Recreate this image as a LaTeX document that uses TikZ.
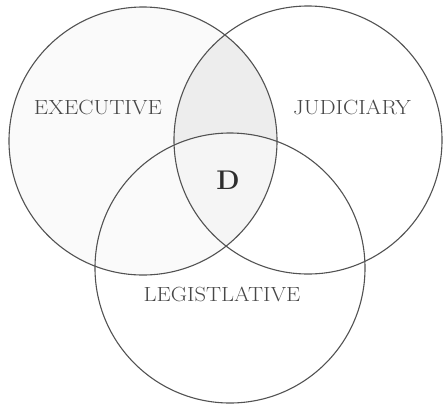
\documentclass[tikz,border=0pt]{standalone}
\usepackage{graphicx}
\tikzset{
  venn/.style={draw=black!68, line width=1.1pt},
  lbl/.style={text=black!72, font=\fontsize{20.5}{24}\selectfont, inner sep=0pt},
  dlbl/.style={text=black!82, font=\fontsize{27}{30}\selectfont\bfseries, inner sep=0pt}
}
\begin{document}
\begin{tikzpicture}[x=1pt,y=-1pt]
\useasboundingbox (0,0) rectangle (443,405);
\coordinate (ce) at (143,141);
\coordinate (cj) at (308,140);
\coordinate (cl) at (230,268);
% fills
\fill[black!2] (ce) circle[radius=134pt];
\begin{scope}
  \clip (ce) circle[radius=134pt];
  \fill[black!7] (cj) circle[radius=134pt];
  \clip (cj) circle[radius=134pt];
  \fill[black!4] (cl) circle[radius=135pt];
\end{scope}
% circles
\node[venn, circle, minimum size=268pt, inner sep=0pt] (exec) at (ce) {};
\node[venn, circle, minimum size=268pt, inner sep=0pt] (jud) at (cj) {};
\node[venn, circle, minimum size=270pt, inner sep=0pt] (leg) at (cl) {};
% labels
\node[lbl] (te) at (98,107) {\scalebox{1.11}[1]{EXECUTIVE}};
\node[lbl] (tj) at (352,107) {\scalebox{1.11}[1]{JUDICIARY}};
\node[lbl] (tl) at (222,294) {\scalebox{1.10}[1]{LEGISTLATIVE}};
\node[dlbl] (d) at (228,180) {D};
\end{tikzpicture}
\end{document}
